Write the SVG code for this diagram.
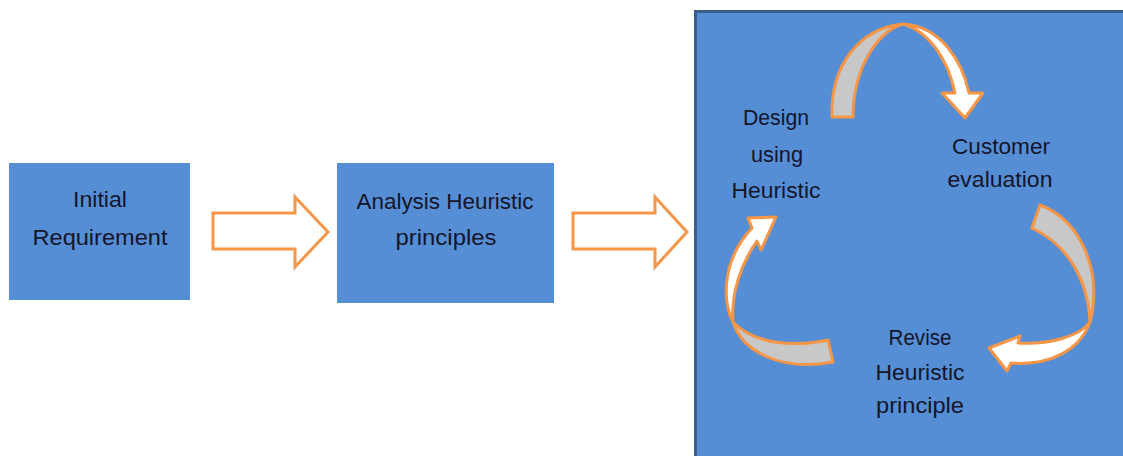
<svg xmlns="http://www.w3.org/2000/svg" width="1123" height="456" viewBox="0 0 1123 456">
<style>
.box{fill:#558ed5;}
.big{fill:#558ed5;stroke:#385d8a;stroke-width:3;}
.t{font-family:"Liberation Sans",Arial,sans-serif;font-size:22px;fill:#15152a;text-anchor:middle;}
.blk{fill:#ffffff;stroke:#f79646;stroke-width:3;stroke-linejoin:miter;}
.g{fill:#c8c8c8;stroke:#f79646;stroke-width:3;stroke-linejoin:round;}
.w{fill:#ffffff;stroke:#f79646;stroke-width:3;stroke-linejoin:round;}
</style>
<rect width="1123" height="456" fill="#ffffff"/>
<g id="node-initial">
<rect class="box" x="9" y="163" width="181" height="137"/>
<text class="t" x="100" y="207" textLength="54" lengthAdjust="spacingAndGlyphs">Initial</text>
<text class="t" x="100" y="245" textLength="135" lengthAdjust="spacingAndGlyphs">Requirement</text>
</g>
<g id="node-analysis">
<rect class="box" x="337" y="163" width="217" height="140"/>
<text class="t" x="445" y="209" textLength="177" lengthAdjust="spacingAndGlyphs">Analysis Heuristic</text>
<text class="t" x="446" y="245" textLength="101" lengthAdjust="spacingAndGlyphs">principles</text>
</g>
<g id="node-cycle">
<rect class="big" x="695.5" y="11.5" width="430" height="450"/>
<text class="t" x="776" y="125" textLength="66" lengthAdjust="spacingAndGlyphs">Design</text>
<text class="t" x="777" y="162" textLength="52" lengthAdjust="spacingAndGlyphs">using</text>
<text class="t" x="776" y="198" textLength="89" lengthAdjust="spacingAndGlyphs">Heuristic</text>
<text class="t" x="1001" y="154" textLength="98" lengthAdjust="spacingAndGlyphs">Customer</text>
<text class="t" x="1000" y="187" textLength="105" lengthAdjust="spacingAndGlyphs">evaluation</text>
<text class="t" x="920" y="345" textLength="63" lengthAdjust="spacingAndGlyphs">Revise</text>
<text class="t" x="920" y="380" textLength="89" lengthAdjust="spacingAndGlyphs">Heuristic</text>
<text class="t" x="920" y="413" textLength="88" lengthAdjust="spacingAndGlyphs">principle</text>
</g>
<g id="connectors">
<path class="blk" d="M213 213 L295 213 L295 197 L328 232 L295 267 L295 249 L213 249 Z"/>
<path class="blk" d="M573 213 L655 213 L655 197 L687 232 L655 267 L655 249 L573 249 Z"/>
<path class="g" d="M832 117 C830 65 860 28 903 24 C876 32 853 70 853 117 Z"/>
<path class="w" d="M903 24 C940 26 962 60 969 93 L983 93 L965 118 L942 93 L955 93 C948 60 930 32 903 24 Z"/>
<path class="g" d="M1040 205 C1080 220 1103 270 1090 322 C1088 280 1068 245 1032 228 Z"/>
<path class="w" d="M1090 322 C1080 350 1050 366 1011 363 L1007 371 L989 348 L1020 336 L1018 343 C1050 345 1080 336 1090 322 Z"/>
<path class="w" d="M748 218 L776 217 L761 250 L757 241 C740 265 731 295 733 322 C722 300 722 260 752 228 Z"/>
<path class="g" d="M733 322 C742 350 778 372 833 362 L828 340 C795 347 755 345 733 322 Z"/>
</g>
</svg>
